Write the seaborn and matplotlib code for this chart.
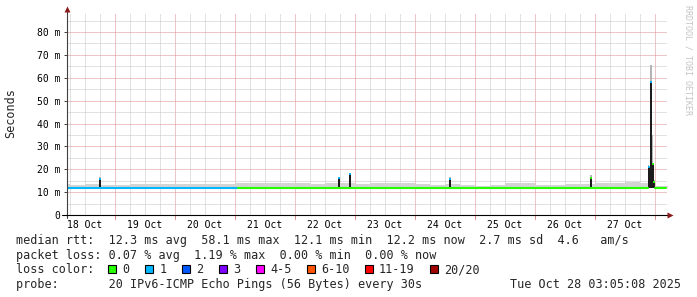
import matplotlib
matplotlib.use("Agg")
import matplotlib.pyplot as plt
from matplotlib.patches import Rectangle
import pandas as pd
import seaborn as sns

# ---------------- data (x: hours since 18 Oct 00:00, y: milliseconds) ----------------
day_labels = ["18 Oct", "19 Oct", "20 Oct", "21 Oct", "22 Oct",
              "23 Oct", "24 Oct", "25 Oct", "26 Oct", "27 Oct"]
day_noon_h = [12, 36, 60, 84, 108, 132, 156, 180, 204, 228]
y_ticks_ms = [0, 10, 20, 30, 40, 50, 60, 70, 80]
y_tick_labels = ["0", "10 m", "20 m", "30 m", "40 m", "50 m", "60 m", "70 m", "80 m"]

# light smoke (highest pings) per 6-hour block
smoke_block_h = [0, 6, 12, 18, 24, 30, 36, 42, 48, 54, 60, 66, 72, 78, 84, 90, 96, 102,
                 108, 114, 120, 126, 132, 138, 144, 150, 156, 162, 168, 174, 180, 186,
                 192, 198, 204, 210, 216, 222, 228, 234, 240, 246]
smoke_top_ms = [13.4, 13.3, 13.5, 13.3, 13.2, 13.5, 13.6, 13.4, 13.5, 13.7, 13.6, 13.7,
                14.0, 13.8, 14.0, 13.9, 13.8, 13.7, 14.0, 14.1, 13.4, 13.8, 14.1, 14.2,
                13.4, 13.3, 13.6, 13.0, 12.9, 13.3, 13.8, 13.9, 13.0, 13.3, 13.6, 13.7,
                13.9, 14.2, 14.3, 14.1, 12.9, 12.9]

# median rtt line segments
median_start_h = [4.8, 73.3, 240.1]
median_end_h = [73.3, 237.3, 244.4]
median_ms = [12.0, 12.0, 12.0]
median_loss = ["1", "0", "0"]

# latency spikes
spike_h = [18.0, 113.6, 118.0, 158.0, 214.4, 237.5, 238.4, 239.1, 239.6]
spike_ms = [15.6, 16.0, 17.8, 15.7, 16.0, 21.0, 58.2, 22.3, 14.4]
spike_smoke_ms = [16.7, 16.6, 18.3, 16.8, 17.5, 22.0, 65.5, 35.0, 15.2]
spike_loss = ["1", "1", "1", "1", "0", "1", "1", "0", "0"]

loss_labels = ["0", "1", "2", "3", "4-5", "6-10", "11-19", "20/20"]
loss_colors = ["#26ff00", "#00b8ff", "#0059ff", "#7e00ff", "#ff00ff", "#ff5500", "#ff0000", "#a10000"]

legend_rtt = "median rtt:  12.3 ms avg  58.1 ms max  12.1 ms min  12.2 ms now  2.7 ms sd  4.6   am/s"
legend_loss = "packet loss: 0.07 % avg  1.19 % max  0.00 % min  0.00 % now"
legend_color = "loss color:"
legend_probe = "probe:       20 IPv6-ICMP Echo Pings (56 Bytes) every 30s"
timestamp = "Tue Oct 28 03:05:08 2025"
watermark = "RRDTOOL / TOBI OETIKER"

# ---------------- figure ----------------
sns.set_theme(style="white")
plt.rcParams["font.family"] = ["DejaVu Sans Mono", "DejaVu Sans"]

W, H = 697, 297
fig = plt.figure(figsize=(W / 100, H / 100), dpi=100)
fig.patch.set_facecolor("white")


def fx(x):
    return x / W


def fy(y):
    return 1 - y / H


ax = fig.add_axes([fx(67), fy(215), 600 / W, 201 / H])
ax.set_facecolor("white")
ax.set_xlim(4.8, 244.8)
ax.set_ylim(0, 87.9)

# grid (1-on / 1-off dotted)
dot = (0, (1, 1))
minor_c = "#c4c4c4"
major_c = "#dc8c8c"
for h in range(6, 241, 6):
    if h % 24:
        ax.axvline(h, color=minor_c, lw=0.72, ls=dot, zorder=0)
for h in range(24, 241, 24):
    ax.axvline(h, color=major_c, lw=0.72, ls=dot, zorder=0)
    ax.plot([h, h], [-0.022, 0], transform=ax.get_xaxis_transform(), color=major_c,
            lw=0.72, clip_on=False, zorder=0)
for v in range(5, 90, 10):
    ax.axhline(v, color=minor_c, lw=0.72, ls=dot, zorder=0)
for v in y_ticks_ms[1:]:
    ax.axhline(v, color=major_c, lw=0.72, ls=dot, zorder=0)

# smoke
ax.fill_between(smoke_block_h, 12.0, smoke_top_ms, step="post", color="#d4d4d4",
                lw=0, zorder=1)

# spikes (dense smoke + light smoke above)
ax.bar(spike_h, [s - m for s, m in zip(spike_smoke_ms, spike_ms)], bottom=spike_ms,
       width=0.55, color="#b4b4b4", lw=0, zorder=2)
ax.bar(spike_h, [m - 12.0 for m in spike_ms], bottom=12.0, width=0.6,
       color="#1c1c1c", lw=0, zorder=3)

# median line coloured by loss
palette = dict(zip(loss_labels, loss_colors))
rows = []
for i, (s, e, v, l) in enumerate(zip(median_start_h, median_end_h, median_ms, median_loss)):
    rows.append(dict(h=s, ms=v, loss=l, seg=i))
    rows.append(dict(h=e, ms=v, loss=l, seg=i))
df = pd.DataFrame(rows)
sns.lineplot(data=df, x="h", y="ms", hue="loss", units="seg", estimator=None,
             palette={k: palette[k] for k in df["loss"].unique()}, lw=1.5,
             legend=False, sort=False, ax=ax, zorder=4)
ax.hlines(spike_ms, [h - 0.3 for h in spike_h], [h + 0.3 for h in spike_h],
          colors=[palette[l] for l in spike_loss], lw=1.3, zorder=5)

# axes
for s in ax.spines.values():
    s.set_visible(False)
ax.plot([0, 0], [-0.015, 1.02], transform=ax.transAxes, color="#404040", lw=0.8,
        clip_on=False, zorder=6)
ax.plot([-0.008, 1.002], [0, 0], transform=ax.transAxes, color="#000000", lw=0.8,
        clip_on=False, zorder=6)
ax.plot([0], [1.025], transform=ax.transAxes, marker="^", ms=4.2, color="#8b1a1a",
        clip_on=False, zorder=7, mec="none")
ax.plot([1.005], [0], transform=ax.transAxes, marker=">", ms=4.2, color="#8b1a1a",
        clip_on=False, zorder=7, mec="none")

ax.set_yticks(y_ticks_ms, y_tick_labels)
ax.set_xticks(day_noon_h, day_labels)
ax.tick_params(axis="y", length=2.2, width=0.7, color="#404040", pad=2.4,
               labelsize=7, labelcolor="#000000", direction="out", left=True)
ax.tick_params(axis="x", length=0, pad=3.5, labelsize=7, labelcolor="#000000", bottom=True)
ax.set_xlabel("")
ax.set_ylabel("")
ax.grid(False)

# texts
fig.text(fx(11), fy(113), "Seconds", rotation=90, ha="center", va="center", fontsize=8.5)
fig.text(fx(688), fy(60), watermark, rotation=270, ha="center", va="center",
         fontsize=6, color="#c4c4c4")

fs = 8.5
fig.text(fx(16), fy(244.3), legend_rtt, ha="left", va="baseline", fontsize=fs)
fig.text(fx(16), fy(259.0), legend_loss, ha="left", va="baseline", fontsize=fs)
fig.text(fx(16), fy(273.3), legend_color, ha="left", va="baseline", fontsize=fs)
fig.text(fx(16), fy(287.6), legend_probe, ha="left", va="baseline", fontsize=fs)
fig.text(fx(680.5), fy(287.6), timestamp, ha="right", va="baseline", fontsize=fs)

char_w = 7.1
bx = 108.3
for lab, col in zip(loss_labels, loss_colors):
    fig.patches.append(Rectangle((fx(bx), fy(272.5)), 8 / W, 8 / H, transform=fig.transFigure,
                                 facecolor=col, edgecolor="black", lw=0.8))
    fig.text(fx(bx + 14.4), fy(273.3), lab, ha="left", va="baseline", fontsize=fs)
    bx += 29.7 + char_w * len(lab)

fig.savefig("out.png", dpi=100, facecolor="white")
